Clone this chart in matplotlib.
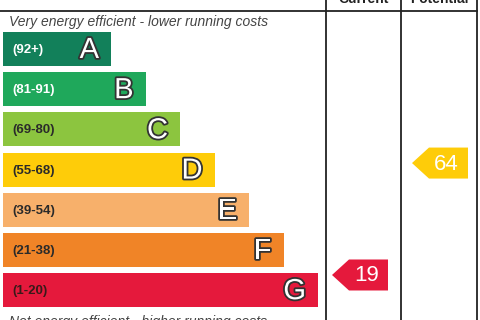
import matplotlib
matplotlib.use("Agg")
import matplotlib.pyplot as plt
import matplotlib.patheffects as pe
from matplotlib.patches import Polygon

plt.rcParams["font.family"] = ["Liberation Sans", "DejaVu Sans"]

BANDS = ["A", "B", "C", "D", "E", "F", "G"]
RANGES = ["(92+)", "(81-91)", "(69-80)", "(55-68)", "(39-54)", "(21-38)", "(1-20)"]
LOWER = [92, 81, 69, 55, 39, 21, 1]
UPPER = [100, 91, 80, 68, 54, 38, 20]
COLORS = ["#12805a", "#1fa85b", "#8cc53f", "#fecc09", "#f7b06b", "#f08427", "#e5193c"]
LABEL_COLORS = ["white", "white", "#2a2a2a", "#2a2a2a", "#2a2a2a", "#2a2a2a", "#3a1a1a"]

CURRENT = 19
POTENTIAL = 64
CURRENT_COLOR = "#e5193c"
POTENTIAL_COLOR = "#fecc09"

# layout in pixels
W, H = 480, 320
top0, step, bar_h = 32, 40.2, 34
x0, w0, dw = 3, 108, 34.5
col_lines = [326, 401, 477]


def band_index(score):
    for i, lo in enumerate(LOWER):
        if score >= lo:
            return i
    return len(LOWER) - 1


fig = plt.figure(figsize=(W / 100, H / 100), dpi=100)
ax = fig.add_axes([0, 0, 1, 1])
ax.set_xlim(0, W)
ax.set_ylim(H, 0)
ax.axis("off")

ys = [top0 + step * i + bar_h / 2 for i in range(len(BANDS))]
widths = [w0 + dw * i for i in range(len(BANDS))]
ax.barh(ys, widths, height=bar_h, left=x0, color=COLORS)

for i, (b, r) in enumerate(zip(BANDS, RANGES)):
    ax.text(x0 + 9, ys[i] + 1, r, fontsize=9.5, fontweight="bold",
            color=LABEL_COLORS[i], va="center", ha="left")
    ax.text(x0 + widths[i] - 12, ys[i] + 1, b, fontsize=21, color="white",
            va="center", ha="right",
            path_effects=[pe.withStroke(linewidth=2.6, foreground="#333333")])

# grid lines
for x in col_lines:
    ax.plot([x, x], [0, H], color="#222222", lw=1.3)
ax.plot([0, col_lines[-1]], [11, 11], color="#222222", lw=1.3)

ax.text((col_lines[0] + col_lines[1]) / 2, 3, "Current", fontsize=10,
        fontweight="bold", ha="center", va="baseline", color="#222222")
ax.text((col_lines[1] + col_lines[2]) / 2, 3, "Potential", fontsize=10,
        fontweight="bold", ha="center", va="baseline", color="#222222")

ax.text(9, 22, "Very energy efficient - lower running costs", fontsize=10,
        style="italic", color="#444444", va="center", ha="left")
ax.text(9, 315, "Not energy efficient - higher running costs", fontsize=10,
        style="italic", color="#444444", va="top", ha="left")


def arrow(col_left, score, color):
    i = band_index(score)
    band_top = ys[i] - bar_h / 2
    yc = band_top + (UPPER[i] - score) / (UPPER[i] - LOWER[i]) * bar_h
    xl = col_left + 6
    xr = col_left + 62
    tip = 17
    h = 31
    pts = [(xl, yc), (xl + tip, yc - h / 2), (xr, yc - h / 2),
           (xr, yc + h / 2), (xl + tip, yc + h / 2)]
    ax.add_patch(Polygon(pts, closed=True, color=color, lw=0))
    ax.text((xl + tip + xr) / 2 - 2, yc + 1, str(score), fontsize=16,
            color="white", ha="center", va="center")


arrow(col_lines[0], CURRENT, CURRENT_COLOR)
arrow(col_lines[1] + 5, POTENTIAL, POTENTIAL_COLOR)

fig.savefig("out.png", dpi=100)
